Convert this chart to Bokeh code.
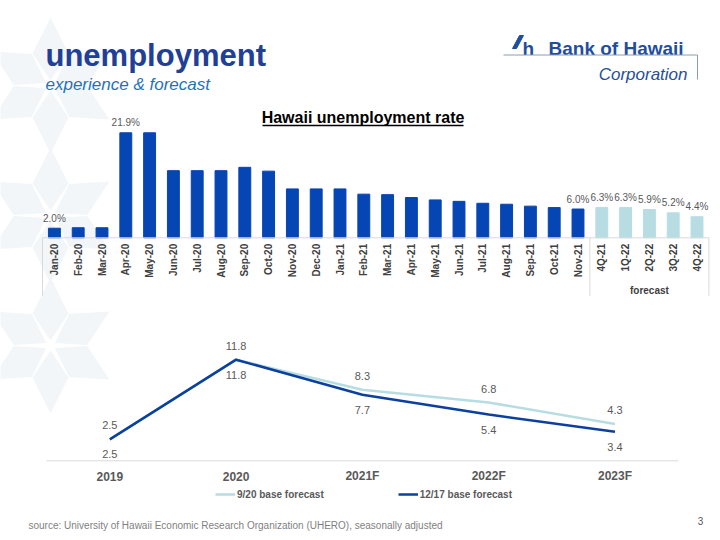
import math
from bokeh.plotting import figure
from bokeh.models import Range1d, ColumnDataSource, Legend, LegendItem
from bokeh.core.properties import value
from bokeh.embed import file_html
from bokeh.resources import INLINE

# ---------------- data ----------------
months = ["Jan-20", "Feb-20", "Mar-20", "Apr-20", "May-20", "Jun-20", "Jul-20", "Aug-20",
          "Sep-20", "Oct-20", "Nov-20", "Dec-20", "Jan-21", "Feb-21", "Mar-21", "Apr-21",
          "May-21", "Jun-21", "Jul-21", "Aug-21", "Sep-21", "Oct-21", "Nov-21"]
hist_rate = [2.0, 2.1, 2.1, 21.9, 21.9, 14.0, 14.0, 14.0, 14.7, 13.9, 10.2, 10.2, 10.2,
             9.1, 9.0, 8.4, 7.9, 7.6, 7.2, 7.0, 6.6, 6.3, 6.0]
fc_quarters = ["4Q-21", "1Q-22", "2Q-22", "3Q-22", "4Q-22"]
fc_rate = [6.3, 6.3, 5.9, 5.2, 4.4]
labelled_months = ["Jan-20", "Apr-20", "Nov-21"]
group_label = "forecast"

years = ["2019", "2020", "2021F", "2022F", "2023F"]
base_sep20 = [2.5, 11.8, 8.3, 6.8, 4.3]
base_dec17 = [2.5, 11.8, 7.7, 5.4, 3.4]
series_names = ["9/20 base forecast", "12/17 base forecast"]

# ---------------- layout ----------------
FONT_NAME = "Liberation Sans"
FONT = value(FONT_NAME)
W, H = 720, 540
OX, OY = 0, 0

DARK = "#0645B4"
LIGHT = "#B7DDE2"
LINE_DARK = "#0B3FA0"
GRAY_TXT = "#595959"
AXIS_TXT = "#404040"
RULE = "#D9D9D9"

p = figure(width=W, height=H, x_range=Range1d(OX, OX + W), y_range=Range1d(OY + H, OY),
           output_backend="svg", toolbar_location=None, min_border=0,
           x_axis_type=None, y_axis_type=None, outline_line_color=None,
           background_fill_color="white", border_fill_color="white")

# decorative faint star pattern on the left (page pixel coordinates)
star_centres = [(50, 85), (50, 215), (50, 345)]
for cx, cy in star_centres:
    for k in range(6):
        a = math.radians(90 + 60 * k)
        dx, dy = math.cos(a), -math.sin(a)
        nx, ny = -dy, dx
        pts = [(5, 0), (32, 18), (68, 0), (32, -18)]
        xs = [cx + r * dx + w * nx for r, w in pts]
        ys = [cy + r * dy + w * ny for r, w in pts]
        p.patch(x=xs, y=ys, fill_color="#F2F6F9", line_color=None)

# bar chart scales
bar_left, bar_step, bar_base, bar_ppu = 42.0, 23.8, 237.3, 4.795
p.extra_x_ranges["bx"] = Range1d((OX - bar_left) / bar_step - 0.5, (OX + W - bar_left) / bar_step - 0.5)
p.extra_y_ranges["by"] = Range1d(-(OY + H - bar_base) / bar_ppu, (bar_base - OY) / bar_ppu)

# line chart scales
ln_left, ln_step, ln_base, ln_ppu = 109.3, 126.3, 460.3, 8.57
p.extra_x_ranges["lx"] = Range1d((OX - ln_left) / ln_step, (OX + W - ln_left) / ln_step)
p.extra_y_ranges["ly"] = Range1d(-(OY + H - ln_base) / ln_ppu, (ln_base - OY) / ln_ppu)

# ---------------- header ----------------
p.text(x=[45], y=[55], text=["unemployment"], text_font=FONT, text_font_size="31px",
       text_font_style="bold", text_color="#213F96", text_baseline="alphabetic")
p.text(x=[45], y=[84], text=["experience & forecast"], text_font=FONT, text_font_size="17px",
       text_font_style="italic", text_color="#1E73BE", text_baseline="alphabetic")

# logo
LOGO = "#1F4E9E"
p.patch(x=[512, 516, 523, 519], y=[48, 48, 35, 35], color=LOGO)
p.text(x=[522], y=[48], text=["h"], text_font=FONT, text_font_size="19px",
       text_font_style="bold", text_color=LOGO, text_baseline="alphabetic")
p.text(x=[548], y=[48], text=["Bank of Hawaii"], text_font=FONT, text_font_size="19px",
       text_font_style="bold", text_color=LOGO, text_baseline="alphabetic")
p.segment(x0=[503], y0=[54.5], x1=[697], y1=[54.5], line_color="#8A9BB5", line_width=1)
p.segment(x0=[697], y0=[54.5], x1=[697], y1=[79], line_color="#8A9BB5", line_width=1)
p.text(x=[687], y=[74], text=["Corporation"], text_font=FONT, text_font_size="17px",
       text_font_style="italic", text_color=LOGO, text_baseline="alphabetic", text_align="right")

# chart title
p.text(x=[362.5], y=[117], text=["Hawaii unemployment rate"], text_font=FONT, text_font_size="16px",
       text_font_style="bold", text_color="black", text_baseline="middle", text_align="center")
p.segment(x0=[262], y0=[125], x1=[463], y1=[125], line_color="black", line_width=1.3)

# ---------------- bar chart ----------------
cats = months + fc_quarters
vals = hist_rate + fc_rate
idx = list(range(len(cats)))
colors = [DARK] * len(months) + [LIGHT] * len(fc_quarters)
bar_labels = [f"{v:.1f}%" if (c in labelled_months or c in fc_quarters) else ""
              for c, v in zip(cats, vals)]
bsrc = ColumnDataSource(dict(x=idx, top=vals, color=colors, cat=cats, label=bar_labels))

p.vbar(x="x", top="top", bottom=0, width=0.5, fill_color="color", line_color="color",
       source=bsrc, x_range_name="bx", y_range_name="by")
p.segment(x0=[-0.5], y0=[0], x1=[len(cats) - 0.5], y1=[0], line_color=RULE, line_width=1,
          x_range_name="bx", y_range_name="by")
sep_x = [-0.5, len(months) - 0.5, len(cats) - 0.5]
p.segment(x0=sep_x, y0=[0] * 3, x1=sep_x, y1=[-58 / bar_ppu] * 3, line_color=RULE, line_width=1,
          x_range_name="bx", y_range_name="by")
p.text(x="x", y="top", text="label", source=bsrc, x_range_name="bx", y_range_name="by",
       text_font=FONT, text_font_size="10px", text_color=GRAY_TXT, text_align="center",
       text_baseline="middle", y_offset=-10)
p.text(x="x", y=0, text="cat", source=bsrc, x_range_name="bx", y_range_name="by",
       angle=math.pi / 2, text_font=FONT, text_font_size="10px", text_font_style="bold",
       text_color=AXIS_TXT, text_align="right", text_baseline="middle", y_offset=6)
p.text(x=[len(months) + (len(fc_quarters) - 1) / 2], y=[0], text=[group_label],
       x_range_name="bx", y_range_name="by", text_font=FONT, text_font_size="10px",
       text_font_style="bold", text_color=AXIS_TXT, text_align="center",
       text_baseline="middle", y_offset=53)

# ---------------- line chart ----------------
lx = list(range(len(years)))
lsrc = ColumnDataSource(dict(x=lx, a=base_sep20, b=base_dec17, year=years,
                             la=[f"{v:.1f}" for v in base_sep20],
                             lb=[f"{v:.1f}" for v in base_dec17]))
p.segment(x0=[-0.5], y0=[0], x1=[len(years) - 0.5], y1=[0], line_color=RULE, line_width=1,
          x_range_name="lx", y_range_name="ly")
r1 = p.line(x="x", y="a", source=lsrc, line_color=LIGHT, line_width=2.5,
            x_range_name="lx", y_range_name="ly")
r2 = p.line(x="x", y="b", source=lsrc, line_color=LINE_DARK, line_width=2.5,
            x_range_name="lx", y_range_name="ly")
p.text(x="x", y="a", text="la", source=lsrc, x_range_name="lx", y_range_name="ly",
       text_font=FONT, text_font_size="11px", text_color=GRAY_TXT, text_align="center",
       text_baseline="middle", y_offset=-14)
p.text(x="x", y="b", text="lb", source=lsrc, x_range_name="lx", y_range_name="ly",
       text_font=FONT, text_font_size="11px", text_color=GRAY_TXT, text_align="center",
       text_baseline="middle", y_offset=15)
p.text(x="x", y=0, text="year", source=lsrc, x_range_name="lx", y_range_name="ly",
       text_font=FONT, text_font_size="12px", text_font_style="bold", text_color=GRAY_TXT,
       text_align="center", text_baseline="middle", y_offset=15.5)

legend = Legend(items=[LegendItem(label=series_names[0], renderers=[r1]),
                       LegendItem(label=series_names[1], renderers=[r2])],
                orientation="horizontal", location=(215, 36), glyph_width=20, glyph_height=20,
                label_height=20, label_standoff=2, spacing=74, padding=0, margin=0,
                border_line_color=None, background_fill_alpha=0,
                label_text_font=FONT_NAME, label_text_font_size="10px",
                label_text_font_style="bold", label_text_color=GRAY_TXT)
p.add_layout(legend)

# ---------------- footer ----------------
p.text(x=[28], y=[525], text=["source: University of Hawaii Economic Research Organization (UHERO), seasonally adjusted"],
       text_font=FONT, text_font_size="10px", text_color="#7F7F7F", text_baseline="middle")
p.text(x=[700], y=[520], text=["3"], text_font=FONT, text_font_size="10px", text_color=GRAY_TXT,
       text_baseline="middle", text_align="center")

open("out.html", "w").write(file_html(p, INLINE))
